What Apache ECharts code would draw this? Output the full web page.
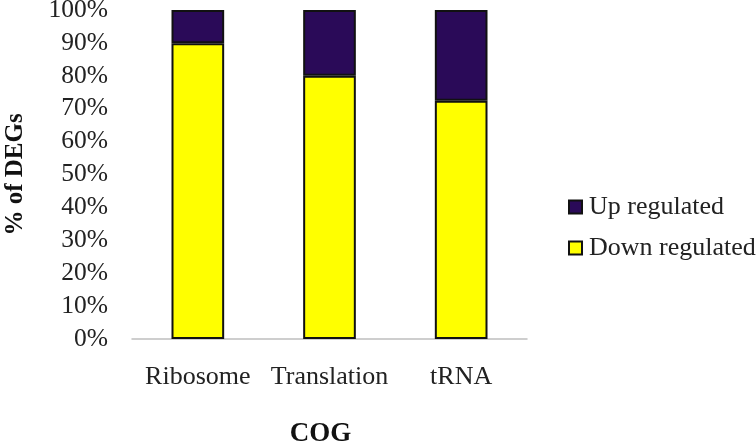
<!DOCTYPE html>
<html>
<head>
<meta charset="utf-8">
<script src="https://cdn.jsdelivr.net/npm/echarts@6/dist/echarts.min.js"></script>
<style>html,body{margin:0;padding:0;background:#fff;}#c{width:756px;height:444px;}</style>
</head>
<body>
<div id="c"></div>
<script>
const categories = ['Ribosome', 'Translation', 'tRNA'];
const downRegulated = [89.9, 80.0, 72.4];
const upRegulated = [10.1, 20.0, 27.6];
const yTicks = [0, 10, 20, 30, 40, 50, 60, 70, 80, 90, 100];

const chart = echarts.init(document.getElementById('c'));
const font = '"Liberation Serif", "Times New Roman", serif';
chart.setOption({
  animation: false,
  textStyle: { fontFamily: font },
  grid: { left: 132, right: 229, top: 10, bottom: 105, containLabel: false, outerBoundsMode: 'none' },
  legend: {
    orient: 'vertical',
    left: 563,
    top: 189,
    itemWidth: 13,
    itemHeight: 13,
    itemGap: 15,
    data: ['Up regulated', 'Down regulated'],
    textStyle: { fontFamily: font, fontSize: 26, color: '#222', padding: [0, 0, 0, 2] },
    icon: 'rect'
  },
  xAxis: {
    type: 'category',
    data: categories,
    name: 'COG',
    nameLocation: 'middle',
    nameGap: 82,
    nameTextStyle: { fontFamily: font, fontSize: 27, fontWeight: 'bold', color: '#111', padding: [0, 18, 0, 0] },
    axisLine: { lineStyle: { color: '#bfbfbf', width: 1.5 } },
    axisTick: { show: false },
    axisLabel: { fontFamily: font, fontSize: 26, color: '#222', margin: 25, interval: 0 }
  },
  yAxis: {
    type: 'value',
    min: yTicks[0],
    max: yTicks[yTicks.length - 1],
    interval: 10,
    name: '% of DEGs',
    nameLocation: 'middle',
    nameGap: 104,
    nameTextStyle: { fontFamily: font, fontSize: 25, fontWeight: 'bold', color: '#111' },
    axisLine: { show: false },
    axisTick: { show: false },
    splitLine: { show: false },
    axisLabel: { fontFamily: font, fontSize: 25.5, color: '#222', margin: 24, formatter: '{value}%' }
  },
  series: [
    {
      name: 'Down regulated', type: 'bar', stack: 'a', data: downRegulated, barWidth: '40%',
      itemStyle: { color: '#ffff00', borderColor: '#111', borderWidth: 2 }
    },
    {
      name: 'Up regulated', type: 'bar', stack: 'a', data: upRegulated, barWidth: '40%',
      itemStyle: { color: '#2a0a58', borderColor: '#111', borderWidth: 2 }
    }
  ]
});
</script>
</body>
</html>
